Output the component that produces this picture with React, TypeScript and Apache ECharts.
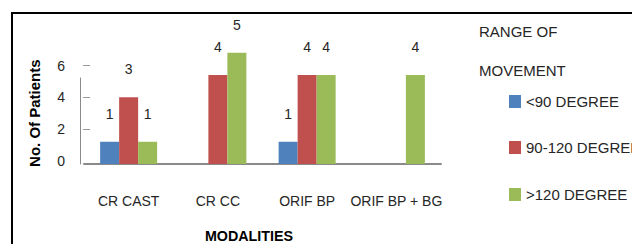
import React, { useEffect, useRef } from "react";
import * as echarts from "echarts";

const categories = ["CR CAST", "CR CC", "ORIF BP", "ORIF BP + BG"];
const seriesNames = ["<90 DEGREE", "90-120 DEGREE", ">120 DEGREE"];
const below90 = [1, null, 1, null];
const from90to120 = [3, 4, 4, null];
const above120 = [1, 5, 4, 4];
const yTickLabels = [0, 2, 4, 6];
const yTickMarks = [2, 4, 6];
const colors = ["#4F81BD", "#C0504D", "#9BBB59"];

const FONT = "Liberation Sans";
const TEXT = "#262626";

export default function App() {
  const ref = useRef<HTMLDivElement>(null);
  useEffect(() => {
    if (!ref.current) return;
    const chart = echarts.init(ref.current, null, { renderer: "svg" });
    const values = [below90, from90to120, above120];
    const legendTops = [91, 135, 178];
    const legendPads = [
      [5, 0, 0, 0],
      [0, 0, 9, 0],
      [0, 0, 17, 0],
    ];
    chart.setOption({
      animation: false,
      backgroundColor: "#ffffff",
      textStyle: { fontFamily: FONT },
      title: {
        text: "RANGE OF\nMOVEMENT",
        left: 479,
        top: 11.5,
        padding: 0,
        textStyle: {
          fontFamily: FONT,
          fontSize: 15,
          fontWeight: "normal",
          color: TEXT,
          lineHeight: 39,
        },
      },
      legend: seriesNames.map((n, i) => ({
        data: [{ name: n, textStyle: { padding: legendPads[i], lineHeight: 16 } }],
        left: 509,
        top: legendTops[i],
        padding: 0,
        icon: "rect",
        itemWidth: 12,
        itemHeight: 13,
        selectedMode: false,
        textStyle: { fontFamily: FONT, fontSize: 15, color: TEXT, lineHeight: 16 },
      })),
      grid: [
        { left: 84, top: 78, right: 191, bottom: 79 },
        { left: 90, top: 65.7, width: 10, height: 94.9 },
      ],
      xAxis: [
        {
          gridIndex: 0,
          type: "category",
          data: categories,
          axisLine: { lineStyle: { color: "#8a8a8a", width: 2 } },
          axisTick: {
            length: 6,
            lineStyle: { color: "#8a8a8a", width: 1 },
            interval: (i: number) => i !== 0,
          },
          axisLabel: {
            interval: 0,
            fontFamily: FONT,
            fontSize: 14,
            color: TEXT,
            margin: 30,
          },
          name: "MODALITIES",
          nameLocation: "middle",
          nameGap: 65,
          nameTextStyle: {
            fontFamily: FONT,
            fontSize: 14.3,
            fontWeight: "bold",
            color: "#000",
            padding: [0, 27, 0, 0],
          },
        },
        { gridIndex: 1, type: "value", show: false },
      ],
      yAxis: [
        {
          gridIndex: 0,
          type: "value",
          min: 0,
          max: 87 / 22.5,
          offset: 4,
          axisLine: { show: true, lineStyle: { color: "#8a8a8a", width: 1 } },
          axisTick: { show: false },
          axisLabel: { show: false },
          splitLine: { show: false },
        },
        {
          gridIndex: 1,
          type: "value",
          min: 0,
          max: 6,
          interval: 2,
          axisLine: { show: false },
          axisTick: {
            show: true,
            length: 7,
            customValues: yTickMarks,
            lineStyle: { color: "#9a9a9a", width: 1 },
          },
          axisLabel: {
            fontFamily: FONT,
            fontSize: 14,
            color: TEXT,
            margin: 25,
            customValues: yTickLabels,
          },
          splitLine: { show: false },
          name: "No. Of Patients",
          nameLocation: "middle",
          nameRotate: 90,
          nameGap: 48,
          nameTextStyle: {
            fontFamily: FONT,
            fontSize: 15,
            fontWeight: "bold",
            color: "#000",
          },
        },
      ],
      series: seriesNames.map((n, i) => ({
        name: n,
        type: "bar",
        xAxisIndex: 0,
        yAxisIndex: 0,
        data: values[i],
        barWidth: 19,
        barGap: "0%",
        clip: false,
        itemStyle: { color: colors[i] },
        label: {
          show: true,
          position: "top",
          distance: 20,
          fontFamily: FONT,
          fontSize: 14,
          lineHeight: 16,
          color: TEXT,
        },
      })),
      graphic: [
        {
          type: "rect",
          shape: { x: 12, y: 13, width: 700, height: 300 },
          style: { fill: "none", stroke: "#000", lineWidth: 2 },
          silent: true,
          z: 100,
        },
      ],
    });
    return () => chart.dispose();
  }, []);
  return (
    <div
      ref={ref}
      style={{ position: "fixed", left: 0, top: 0, width: 632, height: 244 }}
    />
  );
}
